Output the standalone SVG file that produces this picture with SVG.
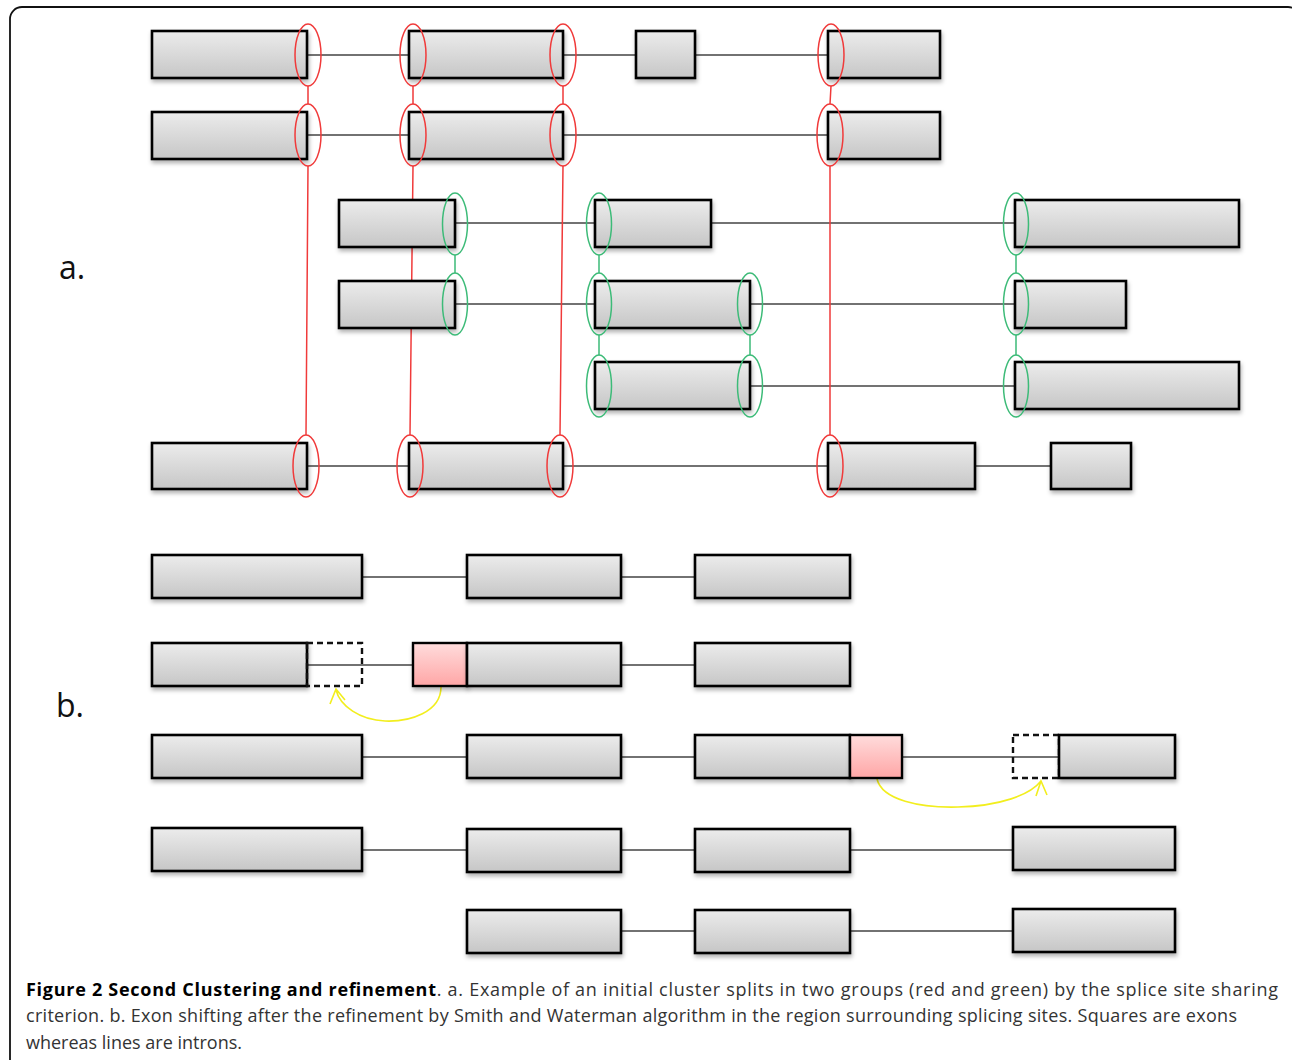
<svg xmlns="http://www.w3.org/2000/svg" width="1292" height="1060" viewBox="0 0 1292 1060">
<style>
.ex{fill:url(#g);stroke:#000;stroke-width:2.6;filter:url(#sh)}
.pk{fill:url(#p);stroke:#000;stroke-width:2.4;filter:url(#sh)}
.ds{fill:none;stroke:#111;stroke-width:2.4;stroke-dasharray:6 4}
.in{stroke:#444;stroke-width:1.6;fill:none}
.rd{fill:none;stroke:#f03a3a;stroke-width:1.5}
.gr{fill:none;stroke:#3dbb78;stroke-width:1.5}
.yl{fill:none;stroke:#f2ee1e;stroke-width:1.6}
.lbl{font-family:"Open Sans","DejaVu Sans",sans-serif;font-size:32px;fill:#111}
.cap{font-family:"Open Sans","DejaVu Sans",sans-serif;font-size:18px;fill:#333}
</style>
<defs>
<linearGradient id="g" x1="0" y1="0" x2="0" y2="1"><stop offset="0" stop-color="#ececec"/><stop offset="1" stop-color="#c6c6c6"/></linearGradient>
<linearGradient id="p" x1="0" y1="0" x2="0" y2="1"><stop offset="0" stop-color="#ffdcdc"/><stop offset="1" stop-color="#ffa6a6"/></linearGradient>
<filter id="sh" x="-10%" y="-20%" width="130%" height="160%"><feDropShadow dx="1" dy="3" stdDeviation="2" flood-color="#000" flood-opacity="0.3"/></filter>
</defs>
<rect x="10" y="7" width="1290" height="1065" rx="12" fill="#fff" stroke="#111" stroke-width="1.8"/>

<g id="connectors">
<!-- part a introns -->
<path class="in" d="M307 55H409M563 55H636M695 55H828"/>
<path class="in" d="M307 135H409M563 135H828"/>
<path class="in" d="M455 223H595M711 223H1015"/>
<path class="in" d="M455 304H595M750 304H1015"/>
<path class="in" d="M750 386H1015"/>
<path class="in" d="M307 466H409M563 466H828M975 466H1051"/>
<!-- part b introns -->
<path class="in" d="M362 577H467M621 577H695"/>
<path class="in" d="M307 665H413M621 665H695"/>
<path class="in" d="M362 757H467M621 757H695M902 757H1059"/>
<path class="in" d="M362 850H467M621 850H695M850 850H1013"/>
<path class="in" d="M621 931H695M850 931H1013"/>
<!-- red site links -->
<path class="rd" d="M308 86V104M413 86V104M563 86V104M831 86L830 104"/>
<path class="rd" d="M308 166L306 435M413 166L410 435M563 166L560 435M830 166V435"/>
<!-- green site links -->
<path class="gr" d="M455 255V273M599 255V273M599 335V355M750 335V355M1016 255V273M1016 335V355"/>
<!-- yellow shift arrows -->
<path class="yl" d="M441 687C441 712 410 722 385 721C360 720 340 706 336 690M330 704L336 689L345 700"/>
<path class="yl" d="M877 779C882 800 920 808 958 807C1000 806 1030 795 1041 781M1036 796L1041 781L1047 795"/>
</g>

<g id="row-a1">
<rect class="ex" x="152" y="31" width="155" height="47"/>
<rect class="ex" x="409" y="31" width="154" height="47"/>
<rect class="ex" x="636" y="31" width="59" height="47"/>
<rect class="ex" x="828" y="31" width="112" height="47"/>
</g>
<g id="row-a2">
<rect class="ex" x="152" y="112" width="155" height="47"/>
<rect class="ex" x="409" y="112" width="154" height="47"/>
<rect class="ex" x="828" y="112" width="112" height="47"/>
</g>
<g id="row-a3">
<rect class="ex" x="339" y="200" width="116" height="47"/>
<rect class="ex" x="595" y="200" width="116" height="47"/>
<rect class="ex" x="1015" y="200" width="224" height="47"/>
</g>
<g id="row-a4">
<rect class="ex" x="339" y="281" width="116" height="47"/>
<rect class="ex" x="595" y="281" width="155" height="47"/>
<rect class="ex" x="1015" y="281" width="111" height="47"/>
</g>
<g id="row-a5">
<rect class="ex" x="595" y="362" width="155" height="47"/>
<rect class="ex" x="1015" y="362" width="224" height="47"/>
</g>
<g id="row-a6">
<rect class="ex" x="152" y="443" width="155" height="46"/>
<rect class="ex" x="409" y="443" width="154" height="46"/>
<rect class="ex" x="828" y="443" width="147" height="46"/>
<rect class="ex" x="1051" y="443" width="80" height="46"/>
</g>

<g id="red-sites">
<ellipse class="rd" cx="308" cy="55" rx="13" ry="31"/>
<ellipse class="rd" cx="413" cy="55" rx="13" ry="31"/>
<ellipse class="rd" cx="563" cy="55" rx="13" ry="31"/>
<ellipse class="rd" cx="831" cy="55" rx="13" ry="31"/>
<ellipse class="rd" cx="308" cy="135" rx="13" ry="31"/>
<ellipse class="rd" cx="413" cy="135" rx="13" ry="31"/>
<ellipse class="rd" cx="563" cy="135" rx="13" ry="31"/>
<ellipse class="rd" cx="830" cy="135" rx="13" ry="31"/>
<ellipse class="rd" cx="306" cy="466" rx="13" ry="31"/>
<ellipse class="rd" cx="410" cy="466" rx="13" ry="31"/>
<ellipse class="rd" cx="560" cy="466" rx="13" ry="31"/>
<ellipse class="rd" cx="830" cy="466" rx="13" ry="31"/>
</g>
<g id="green-sites">
<ellipse class="gr" cx="455" cy="224" rx="12.5" ry="31"/>
<ellipse class="gr" cx="599" cy="224" rx="12.5" ry="31"/>
<ellipse class="gr" cx="1016" cy="224" rx="12.5" ry="31"/>
<ellipse class="gr" cx="455" cy="304" rx="12.5" ry="31"/>
<ellipse class="gr" cx="599" cy="304" rx="12.5" ry="31"/>
<ellipse class="gr" cx="750" cy="304" rx="12.5" ry="31"/>
<ellipse class="gr" cx="1016" cy="304" rx="12.5" ry="31"/>
<ellipse class="gr" cx="599" cy="386" rx="12.5" ry="31"/>
<ellipse class="gr" cx="750" cy="386" rx="12.5" ry="31"/>
<ellipse class="gr" cx="1016" cy="386" rx="12.5" ry="31"/>
</g>

<g id="row-b1">
<rect class="ex" x="152" y="555" width="210" height="43"/>
<rect class="ex" x="467" y="555" width="154" height="43"/>
<rect class="ex" x="695" y="555" width="155" height="43"/>
</g>
<g id="row-b2">
<rect class="ex" x="152" y="643" width="155" height="43"/>
<rect class="ds" x="307" y="643" width="55" height="43"/>
<rect class="pk" x="413" y="643" width="54" height="43"/>
<rect class="ex" x="467" y="643" width="154" height="43"/>
<rect class="ex" x="695" y="643" width="155" height="43"/>
</g>
<g id="row-b3">
<rect class="ex" x="152" y="735" width="210" height="43"/>
<rect class="ex" x="467" y="735" width="154" height="43"/>
<rect class="ex" x="695" y="735" width="155" height="43"/>
<rect class="pk" x="850" y="735" width="52" height="43"/>
<rect class="ds" x="1013" y="735" width="46" height="43"/>
<rect class="ex" x="1059" y="735" width="116" height="43"/>
</g>
<g id="row-b4">
<rect class="ex" x="152" y="828" width="210" height="43"/>
<rect class="ex" x="467" y="829" width="154" height="43"/>
<rect class="ex" x="695" y="829" width="155" height="43"/>
<rect class="ex" x="1013" y="827" width="162" height="43"/>
</g>
<g id="row-b5">
<rect class="ex" x="467" y="910" width="154" height="43"/>
<rect class="ex" x="695" y="910" width="155" height="43"/>
<rect class="ex" x="1013" y="909" width="162" height="43"/>
</g>

<g id="labels">
<text class="lbl" x="59" y="279">a.</text>
<text class="lbl" x="56" y="717">b.</text>
</g>
<g id="caption">
<text class="cap" x="26" y="996" textLength="1252" lengthAdjust="spacing"><tspan font-weight="bold" fill="#000">Figure 2 Second Clustering and refinement</tspan>. a. Example of an initial cluster splits in two groups (red and green) by the splice site sharing</text>
<text class="cap" x="26" y="1022" textLength="1211" lengthAdjust="spacing">criterion. b. Exon shifting after the refinement by Smith and Waterman algorithm in the region surrounding splicing sites. Squares are exons</text>
<text class="cap" x="26" y="1049">whereas lines are introns.</text>
</g>
</svg>
